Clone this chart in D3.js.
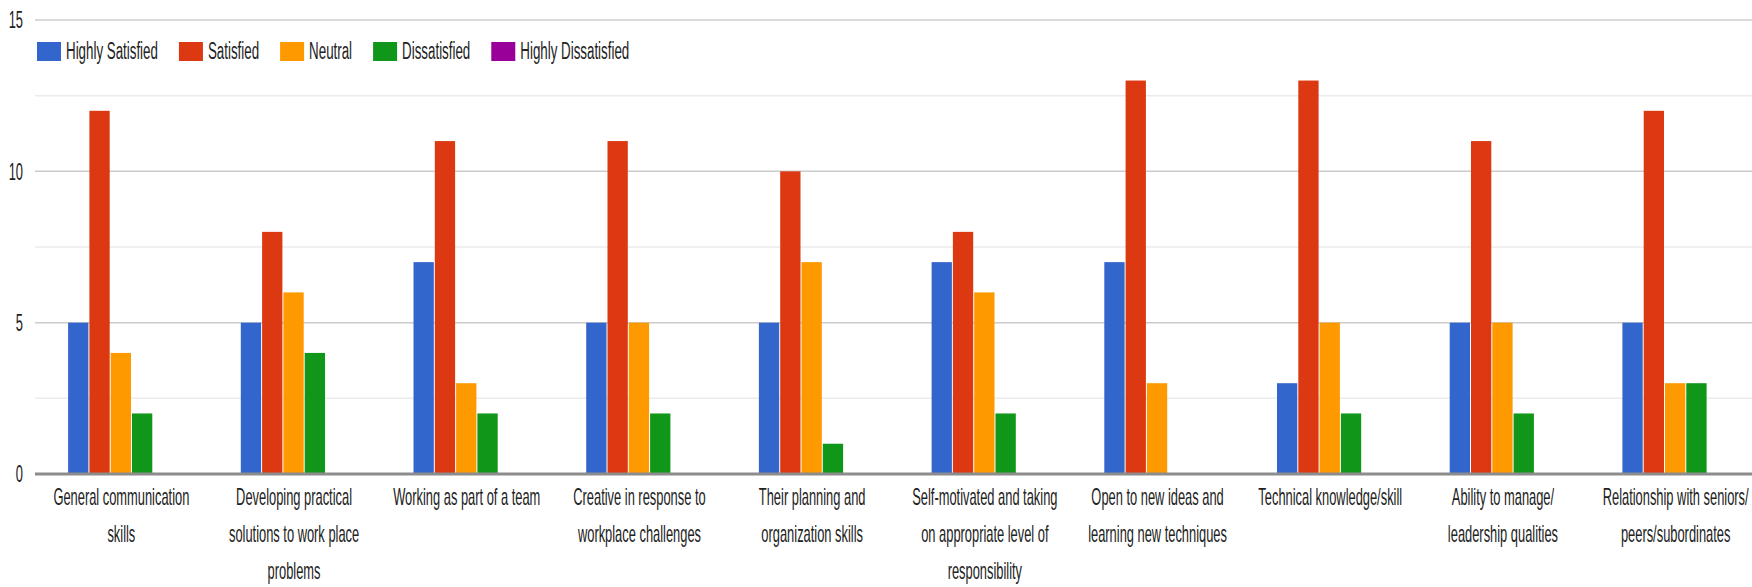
<!DOCTYPE html>
<html>
<head>
<meta charset="utf-8">
<script src="https://cdn.jsdelivr.net/npm/d3@7"></script>
<style>
  html, body { margin: 0; padding: 0; background: #ffffff; }
  svg { display: block; }
  text { font-family: "Liberation Sans", Arial, sans-serif; fill: #222; }
</style>
</head>
<body>
<div id="chart"></div>
<script>
// ---- data ----
const categories = [
  "General communication skills",
  "Developing practical solutions to work place problems",
  "Working as part of a team",
  "Creative in response to workplace challenges",
  "Their planning and organization skills",
  "Self-motivated and taking on appropriate level of responsibility",
  "Open to new ideas and learning new techniques",
  "Technical knowledge/skill",
  "Ability to manage/ leadership qualities",
  "Relationship with seniors/ peers/subordinates"
];
const seriesNames = ["Highly Satisfied", "Satisfied", "Neutral", "Dissatisfied", "Highly Dissatisfied"];
const highlySatisfied    = [5, 5, 7, 5, 5, 7, 7, 3, 5, 5];
const satisfied          = [12, 8, 11, 11, 10, 8, 13, 13, 11, 12];
const neutral            = [4, 6, 3, 5, 7, 6, 3, 5, 5, 3];
const dissatisfied       = [2, 4, 2, 2, 1, 2, 0, 2, 2, 3];
const highlyDissatisfied = [0, 0, 0, 0, 0, 0, 0, 0, 0, 0];
const seriesColors = ["#3366cc", "#dc3912", "#ff9900", "#109618", "#990099"];
const yTickValues = [0, 5, 10, 15];
const yMinorValues = [2.5, 7.5, 12.5];

const seriesValues = [highlySatisfied, satisfied, neutral, dissatisfied, highlyDissatisfied];

// ---- layout ----
const W = 1752, H = 587;
const plotLeft = 35, plotRight = 1762, plotTop = 20, plotBottom = 474;
const groupWidth = 106.5;
const SX = 0.56, FS = 23;

const svg = d3.select("#chart").append("svg").attr("width", W).attr("height", H);

const x0 = d3.scaleBand().domain(categories).range([plotLeft, plotRight]).padding(0);
const x1 = d3.scaleBand().domain(seriesNames).range([0, groupWidth]).padding(0);
const y = d3.scaleLinear().domain([0, 15]).range([plotBottom, plotTop]);

// minor gridlines
svg.append("g").selectAll("line").data(yMinorValues).join("line")
  .attr("x1", plotLeft).attr("x2", W)
  .attr("y1", d => y(d)).attr("y2", d => y(d))
  .attr("stroke", "#ebebeb").attr("stroke-width", 1.5);

// major gridlines
svg.append("g").selectAll("line").data(yTickValues.filter(v => v !== 0)).join("line")
  .attr("x1", plotLeft).attr("x2", W)
  .attr("y1", d => y(d)).attr("y2", d => y(d))
  .attr("stroke", "#cccccc").attr("stroke-width", 1.5);

// y tick labels
svg.append("g").selectAll("text").data(yTickValues).join("text")
  .attr("transform", d => `translate(23,${y(d)}) scale(${SX},1)`)
  .attr("dy", "0.36em")
  .attr("text-anchor", "end")
  .attr("font-size", FS)
  .attr("fill", "#444")
  .text(d => d);

// bars
const groups = svg.append("g").selectAll("g").data(categories).join("g")
  .attr("transform", d => `translate(${x0(d) + (x0.bandwidth() - groupWidth) / 2},0)`);

groups.selectAll("rect")
  .data((c, i) => seriesNames.map((s, j) => ({ s, v: seriesValues[j][i], color: seriesColors[j] })))
  .join("rect")
  .attr("x", d => x1(d.s))
  .attr("width", x1.bandwidth() - 1)
  .attr("y", d => y(d.v))
  .attr("height", d => y(0) - y(d.v))
  .attr("fill", d => d.color);

// baseline
svg.append("line")
  .attr("x1", plotLeft).attr("x2", W)
  .attr("y1", y(0)).attr("y2", y(0))
  .attr("stroke", "#8c8c8c").attr("stroke-width", 3);

// category labels with wrapping
const wrapWidth = 156;
const measure = svg.append("text").attr("font-size", FS).attr("visibility", "hidden");
function textW(s) { measure.text(s); return measure.node().getComputedTextLength() * SX; }
function wrap(str) {
  const words = str.split(" ");
  const lines = [];
  let cur = "";
  for (const w of words) {
    const t = cur ? cur + " " + w : w;
    if (cur && textW(t) > wrapWidth) { lines.push(cur); cur = w; }
    else cur = t;
  }
  if (cur) lines.push(cur);
  return lines;
}
const labelG = svg.append("g");
categories.forEach(c => {
  const cx = x0(c) + x0.bandwidth() / 2;
  wrap(c).forEach((ln, k) => {
    labelG.append("text")
      .attr("transform", `translate(${cx},${505 + k * 37}) scale(${SX},1)`)
      .attr("text-anchor", "middle")
      .attr("font-size", FS)
      .text(ln);
  });
});
measure.remove();

// legend
const legend = svg.append("g");
let lx = 37;
seriesNames.forEach((s, j) => {
  legend.append("rect").attr("x", lx).attr("y", 42).attr("width", 24).attr("height", 19).attr("fill", seriesColors[j]);
  const t = legend.append("text")
    .attr("transform", `translate(${lx + 29},59) scale(0.58,1)`)
    .attr("font-size", FS)
    .text(s);
  const tw = t.node().getComputedTextLength() * 0.58;
  lx = lx + 29 + tw + 21;
});
</script>
</body>
</html>
